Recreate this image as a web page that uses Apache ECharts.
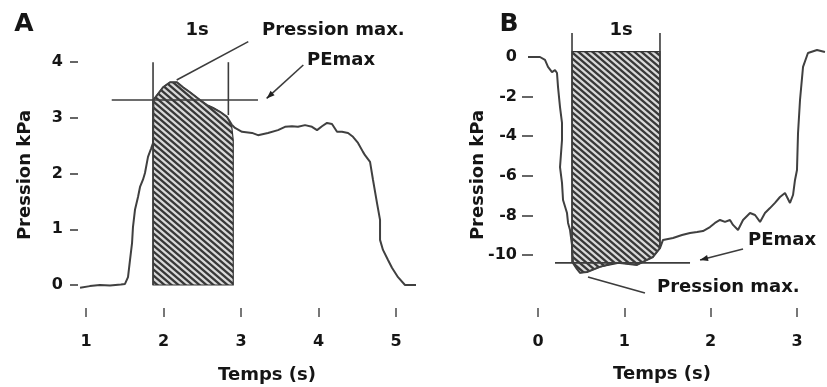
<!DOCTYPE html>
<html>
<head>
<meta charset="utf-8">
<script src="https://cdn.jsdelivr.net/npm/echarts@6/dist/echarts.min.js"></script>
<style>html,body{margin:0;padding:0;background:#fff}#c{width:827px;height:387px}</style>
</head>
<body>
<div id="c"></div>
<script>
// ---------- Panel A data ----------
const timeA = [0.923,1.05,1.18,1.31,1.45,1.503,1.542,1.568,1.594,1.606,1.632,1.671,1.697,1.735,1.761,1.80,1.84,1.865,1.87,1.994,2.084,2.174,2.252,2.342,2.471,2.561,2.639,2.729,2.819,2.88,2.923,3.013,3.142,3.219,3.348,3.477,3.568,3.658,3.735,3.826,3.916,3.981,4.045,4.11,4.174,4.239,4.303,4.381,4.445,4.51,4.574,4.6,4.665,4.703,4.755,4.794,4.794,4.832,4.897,4.948,5.026,5.116,5.258];
const pressureA = [-0.05,-0.02,0,-0.01,0.01,0.02,0.14,0.45,0.75,1.04,1.35,1.58,1.76,1.89,2.01,2.30,2.45,2.55,3.32,3.55,3.64,3.64,3.55,3.46,3.32,3.23,3.18,3.11,3.02,2.88,2.82,2.75,2.73,2.69,2.73,2.78,2.84,2.85,2.84,2.87,2.84,2.78,2.85,2.91,2.89,2.75,2.75,2.73,2.66,2.55,2.39,2.33,2.21,1.89,1.47,1.17,0.81,0.63,0.45,0.31,0.14,0,0];
const hatchTimeA = [1.865,1.994,2.084,2.174,2.252,2.342,2.471,2.561,2.639,2.729,2.819,2.88,2.9];
const hatchTopA = [3.32,3.55,3.64,3.64,3.55,3.46,3.32,3.23,3.18,3.11,3.02,2.85,2.6];
const xTicksA = [1,2,3,4,5];
const yTicksA = [0,1,2,3,4];
// annotation segments [t1,p1,t2,p2]
const linesA = [[1.865,4.0,1.865,0],[2.837,4.0,2.837,3.05],[1.332,3.32,3.219,3.32],[2.17,3.68,3.094,4.37]];
const arrowA = [3.804,3.95,3.331,3.35];

// ---------- Panel B data ----------
const timeB = [-0.116,0.023,0.081,0.116,0.162,0.197,0.22,0.232,0.255,0.278,0.278,0.255,0.278,0.29,0.336,0.348,0.371,0.394,0.405,0.45,0.487,0.568,0.718,0.869,0.95,1.147,1.263,1.332,1.413,1.448,1.471,1.564,1.668,1.761,1.842,1.911,1.992,2.05,2.108,2.166,2.224,2.259,2.317,2.375,2.456,2.514,2.572,2.629,2.687,2.745,2.803,2.861,2.919,2.954,2.977,3.0,3.012,3.035,3.07,3.127,3.232,3.324];
const pressureB = [0,0,-0.15,-0.5,-0.76,-0.66,-0.81,-1.52,-2.53,-3.33,-4.19,-5.56,-6.36,-7.22,-7.88,-8.38,-8.74,-9.5,-10.4,-10.7,-10.9,-10.86,-10.6,-10.4,-10.4,-10.5,-10.25,-10.1,-9.65,-9.24,-9.24,-9.14,-8.99,-8.89,-8.84,-8.79,-8.59,-8.38,-8.23,-8.33,-8.23,-8.48,-8.74,-8.23,-7.88,-7.98,-8.33,-7.88,-7.63,-7.37,-7.07,-6.87,-7.37,-6.97,-6.21,-5.71,-3.84,-2.17,-0.5,0.2,0.35,0.25];
const hatchTimeB = [0.394,0.405,0.487,0.568,0.718,0.95,1.147,1.332,1.413];
const hatchBottomB = [-9.9,-10.4,-10.9,-10.86,-10.6,-10.4,-10.5,-10.1,-9.65];
const hatchTopB = 0.27;
const xTicksB = [0,1,2,3];
const yTicksB = [-2,-4,-6,-8,-10];
const yLabelsB = [0,-2,-4,-6,-8,-10];
const linesB = [[0.394,1.21,0.394,-10.35],[1.413,1.21,1.413,-9.6],[0.197,-10.4,1.761,-10.4],[0.579,-11.11,1.239,-11.92]];
const arrowB = [2.375,-9.70,1.877,-10.25];

// ---------- styles ----------
const FONT = '"DejaVu Sans", "Liberation Sans", sans-serif';
const TXT = '#151515';
const CURVE = '#404040';

function makeHatch() {
  const w = 7, h = 6;
  const c = document.createElement('canvas');
  c.width = w; c.height = h;
  const g = c.getContext('2d');
  g.fillStyle = '#d9d9d9';
  g.fillRect(0, 0, w, h);
  g.strokeStyle = '#383838';
  g.lineWidth = 2.3;
  g.beginPath();
  for (let k = -1; k <= 1; k++) {
    g.moveTo(k * w - w, -h);
    g.lineTo(k * w + 2 * w, 2 * h);
  }
  g.stroke();
  return c;
}
const hatchPattern = { image: makeHatch(), repeat: 'repeat' };

const zip = (xs, ys) => xs.map((x, i) => [x, ys[i]]);

function hatchSeries(poly, xi) {
  return {
    type: 'custom', xAxisIndex: xi, yAxisIndex: xi, z: 1, silent: true,
    data: [poly[0]],
    renderItem: (params, api) => ({
      type: 'polygon',
      shape: { points: poly.map(p => api.coord(p)) },
      style: { fill: hatchPattern, stroke: '#333', lineWidth: 1.2 }
    })
  };
}

function annotSeries(segs, arrow, xi) {
  return {
    type: 'custom', xAxisIndex: xi, yAxisIndex: xi, z: 2, silent: true,
    data: [[segs[0][0], segs[0][1]]],
    renderItem: (params, api) => {
      const children = segs.map(s => {
        const a = api.coord([s[0], s[1]]), b = api.coord([s[2], s[3]]);
        return { type: 'line', shape: { x1: a[0], y1: a[1], x2: b[0], y2: b[1] },
                 style: { stroke: '#3c3c3c', lineWidth: 1.6 } };
      });
      const a = api.coord([arrow[0], arrow[1]]), b = api.coord([arrow[2], arrow[3]]);
      children.push({ type: 'line', shape: { x1: a[0], y1: a[1], x2: b[0], y2: b[1] },
                      style: { stroke: '#3c3c3c', lineWidth: 1.6 } });
      const ang = Math.atan2(b[1] - a[1], b[0] - a[0]);
      const L = 8, W = 3;
      const bx = b[0] - L * Math.cos(ang), by = b[1] - L * Math.sin(ang);
      children.push({ type: 'polygon', shape: { points: [
        [b[0], b[1]],
        [bx + W * Math.sin(ang), by - W * Math.cos(ang)],
        [bx - W * Math.sin(ang), by + W * Math.cos(ang)]
      ] }, style: { fill: '#222' } });
      return { type: 'group', children };
    }
  };
}

const polyA = [[hatchTimeA[0], 0]].concat(zip(hatchTimeA, hatchTopA), [[hatchTimeA[hatchTimeA.length - 1], 0]]);
const polyB = [[hatchTimeB[0], hatchTopB], [hatchTimeB[hatchTimeB.length - 1], hatchTopB]]
  .concat(zip(hatchTimeB, hatchBottomB).reverse());

const tickLabel = { fontFamily: FONT, fontWeight: 'bold', fontSize: 16, color: TXT };

const chart = echarts.init(document.getElementById('c'), null, { renderer: 'canvas' });
chart.setOption({
  animation: false,
  backgroundColor: '#fff',
  grid: [
    { left: 80, top: 20, width: 336, height: 297 },
    { left: 522, top: 20, width: 305, height: 297 }
  ],
  xAxis: [
    { type: 'value', gridIndex: 0, min: 0.92258, max: 5.25806, position: 'bottom',
      axisLine: { show: false, onZero: false }, splitLine: { show: false },
      axisTick: { show: true, inside: true, length: 9, customValues: xTicksA, lineStyle: { color: '#777', width: 2 } },
      axisLabel: { customValues: xTicksA, margin: 17, ...tickLabel } },
    { type: 'value', gridIndex: 1, min: -0.18533, max: 3.34762, position: 'bottom',
      axisLine: { show: false, onZero: false }, splitLine: { show: false },
      axisTick: { show: true, inside: true, length: 9, customValues: xTicksB, lineStyle: { color: '#777', width: 2 } },
      axisLabel: { customValues: xTicksB, margin: 17, ...tickLabel } }
  ],
  yAxis: [
    { type: 'value', gridIndex: 0, min: -0.5745, max: 4.7576, offset: 2, position: 'left',
      axisLine: { show: false, onZero: false }, splitLine: { show: false },
      axisTick: { show: true, inside: false, length: 8, customValues: yTicksA, lineStyle: { color: '#666', width: 2 } },
      axisLabel: { customValues: yTicksA, margin: 15, ...tickLabel } },
    { type: 'value', gridIndex: 1, min: -13.1313, max: 1.8687, position: 'left',
      axisLine: { show: false, onZero: false }, splitLine: { show: false },
      axisTick: { show: true, inside: true, length: 11, customValues: yTicksB, lineStyle: { color: '#666', width: 2 } },
      axisLabel: { customValues: yLabelsB, margin: 5, ...tickLabel } }
  ],
  series: [
    hatchSeries(polyA, 0),
    annotSeries(linesA, arrowA, 0),
    { type: 'line', xAxisIndex: 0, yAxisIndex: 0, z: 3, silent: true, showSymbol: false,
      data: zip(timeA, pressureA), lineStyle: { color: CURVE, width: 2 } },
    hatchSeries(polyB, 1),
    annotSeries(linesB, arrowB, 1),
    { type: 'line', xAxisIndex: 1, yAxisIndex: 1, z: 3, silent: true, showSymbol: false,
      data: zip(timeB, pressureB), lineStyle: { color: CURVE, width: 2 } }
  ],
  graphic: [
    { type: 'text', x: 24, y: 24, style: { text: 'A', font: 'bold 25px ' + FONT, fill: TXT, align: 'center', verticalAlign: 'middle' } },
    { type: 'text', x: 197, y: 30, style: { text: '1s', font: 'bold 18px ' + FONT, fill: TXT, align: 'center', verticalAlign: 'middle' } },
    { type: 'text', x: 262, y: 30, style: { text: 'Pression max.', font: 'bold 18px ' + FONT, fill: TXT, align: 'left', verticalAlign: 'middle' } },
    { type: 'text', x: 307, y: 60, style: { text: 'PEmax', font: 'bold 18px ' + FONT, fill: TXT, align: 'left', verticalAlign: 'middle' } },
    { type: 'text', x: 25, y: 175, rotation: Math.PI / 2, style: { text: 'Pression kPa', font: 'bold 18px ' + FONT, fill: TXT, align: 'center', verticalAlign: 'middle' } },
    { type: 'text', x: 267, y: 375, style: { text: 'Temps (s)', font: 'bold 18px ' + FONT, fill: TXT, align: 'center', verticalAlign: 'middle' } },
    { type: 'text', x: 509, y: 24, style: { text: 'B', font: 'bold 25px ' + FONT, fill: TXT, align: 'center', verticalAlign: 'middle' } },
    { type: 'text', x: 621, y: 30, style: { text: '1s', font: 'bold 18px ' + FONT, fill: TXT, align: 'center', verticalAlign: 'middle' } },
    { type: 'text', x: 748, y: 240, style: { text: 'PEmax', font: 'bold 18px ' + FONT, fill: TXT, align: 'left', verticalAlign: 'middle' } },
    { type: 'text', x: 657, y: 287, style: { text: 'Pression max.', font: 'bold 18px ' + FONT, fill: TXT, align: 'left', verticalAlign: 'middle' } },
    { type: 'text', x: 478, y: 175, rotation: Math.PI / 2, style: { text: 'Pression kPa', font: 'bold 18px ' + FONT, fill: TXT, align: 'center', verticalAlign: 'middle' } },
    { type: 'text', x: 662, y: 374, style: { text: 'Temps (s)', font: 'bold 18px ' + FONT, fill: TXT, align: 'center', verticalAlign: 'middle' } }
  ]
});
</script>
</body>
</html>
